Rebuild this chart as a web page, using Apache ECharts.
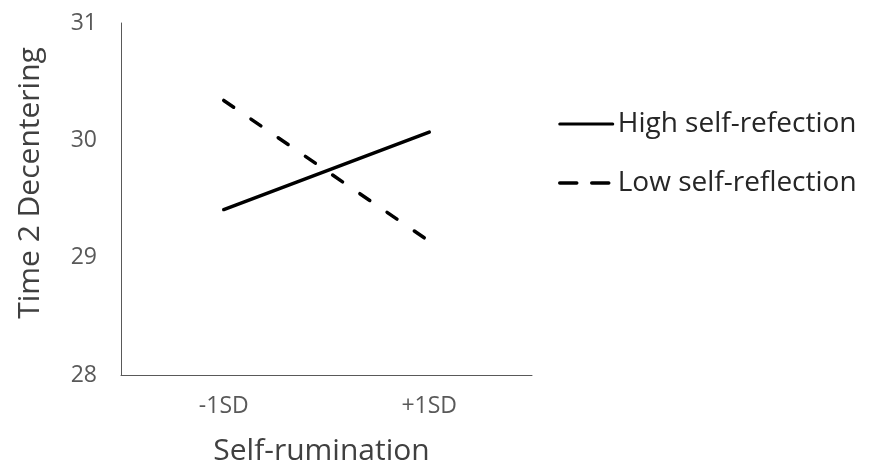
<!DOCTYPE html>
<html>
<head>
<meta charset="utf-8">
<script src="https://cdn.jsdelivr.net/npm/echarts@6/dist/echarts.min.js"></script>
<style>html,body{margin:0;padding:0;background:#fff}#c{width:881px;height:465px}</style>
</head>
<body>
<div id="c"></div>
<script>
var categories = ['-1SD', '+1SD'];
var highSelfReflection = [29.41, 30.07];
var lowSelfReflection = [30.34, 29.14];
var seriesNames = ['High self-refection', 'Low self-reflection'];
var yTicks = [28, 29, 30, 31];

var FONT = '"Open Sans", "Noto Sans", sans-serif';
var chart = echarts.init(document.getElementById('c'), null, {renderer: 'canvas'});
chart.setOption({
  animation: false,
  backgroundColor: '#fff',
  grid: {left: 121, right: 349, top: 23, bottom: 90, outerBoundsMode: 'none', containLabel: false},
  legend: {
    orient: 'vertical',
    left: 553,
    top: 105,
    itemWidth: 53,
    itemHeight: 14,
    itemGap: 31,
    itemStyle: {opacity: 0},
    lineStyle: {width: 3, color: '#000'},
    textStyle: {fontFamily: FONT, fontSize: 28, color: '#262626'},
    data: [
      {name: seriesNames[0], lineStyle: {width: 3, color: '#000', cap: 'round'}},
      {name: seriesNames[1], lineStyle: {width: 3.5, color: '#000', type: [17, 15], cap: 'round'}}
    ]
  },
  xAxis: {
    type: 'category',
    data: categories,
    boundaryGap: true,
    name: 'Self-rumination',
    nameLocation: 'middle',
    nameGap: 61,
    nameTextStyle: {fontFamily: FONT, fontSize: 30, color: '#404040', padding: [0, 10, 0, 0]},
    axisLine: {lineStyle: {color: '#595959', width: 1}},
    axisTick: {show: false},
    axisLabel: {fontFamily: FONT, fontSize: 23, color: '#595959', margin: 20}
  },
  yAxis: {
    type: 'value',
    min: 28,
    max: 31,
    interval: 1,
    name: 'Time 2 Decentering',
    nameLocation: 'middle',
    nameGap: 76,
    nameTextStyle: {fontFamily: FONT, fontSize: 30, color: '#404040', padding: [0, 0, 0, 32]},
    axisLine: {show: true, lineStyle: {color: '#595959', width: 1}},
    axisTick: {show: false},
    splitLine: {show: false},
    axisLabel: {fontFamily: FONT, fontSize: 23, color: '#595959', margin: 24,
      formatter: function (v) { return yTicks.indexOf(v) >= 0 ? String(v) : ''; }}
  },
  series: [
    {
      name: seriesNames[0],
      type: 'line',
      data: highSelfReflection,
      symbol: 'none',
      lineStyle: {color: '#000', width: 3.5, cap: 'round'},
      itemStyle: {color: '#000'}
    },
    {
      name: seriesNames[1],
      type: 'line',
      data: lowSelfReflection,
      symbol: 'none',
      lineStyle: {color: '#000', width: 3.5, type: [12, 21], cap: 'round'},
      itemStyle: {color: '#000'}
    }
  ]
});
</script>
</body>
</html>
